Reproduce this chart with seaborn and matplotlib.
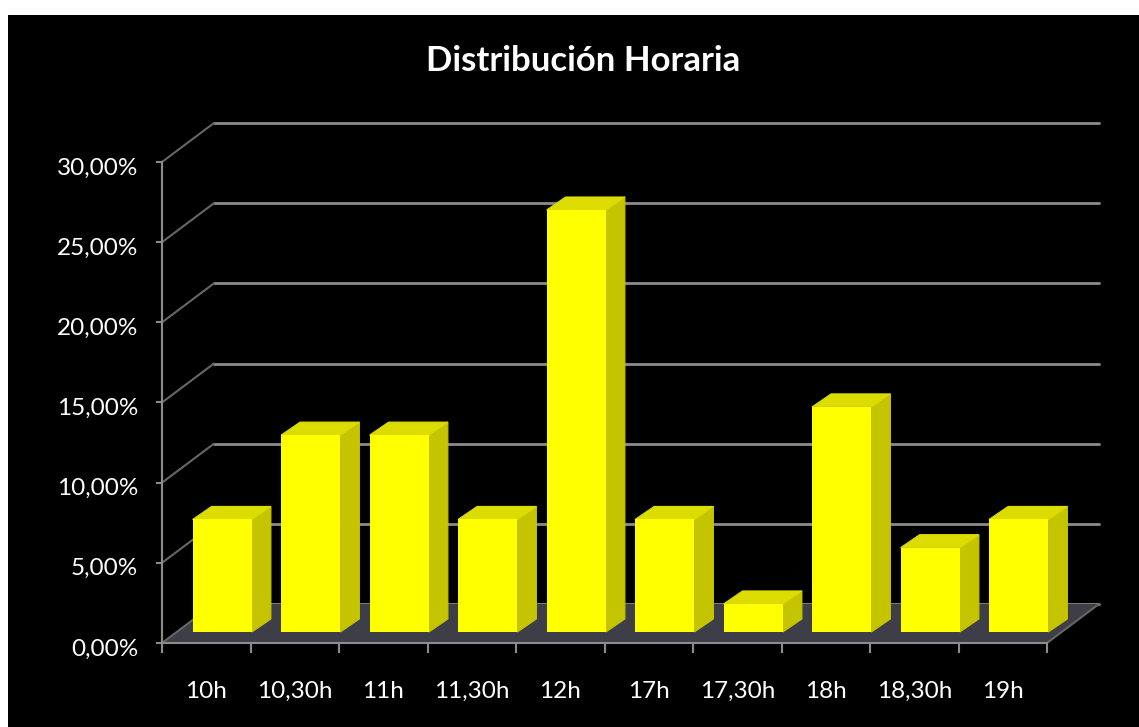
import numpy as np
import pandas as pd
import seaborn as sns
import matplotlib.pyplot as plt
from matplotlib.patches import Polygon, Rectangle

# values
horas = ["10h", "10,30h", "11h", "11,30h", "12h", "17h", "17,30h", "18h", "18,30h", "19h"]
porcentaje = [7.02, 12.28, 12.28, 7.02, 26.32, 7.02, 1.75, 14.04, 5.26, 7.02]
y_ticks = [0, 5, 10, 15, 20, 25, 30]
y_labels = ["0,00%", "5,00%", "10,00%", "15,00%", "20,00%", "25,00%", "30,00%"]

W, H = 1139, 727
GRIS = "#8c8c8c"
GRIS_DIAG = "#666666"

sns.set_theme(style="white")
plt.rcParams["font.family"] = ["Lato", "DejaVu Sans"]

fig = plt.figure(figsize=(W / 100, H / 100), dpi=100, facecolor="white")
fig.patches.append(Rectangle((8 / W, 0), 1, 1 - 15 / H, transform=fig.transFigure,
                             facecolor="black", edgecolor="none", zorder=-5))


def make_axes(dx=0, dy=0):
    # plot box of the front plane, moved by dx, dy pixels for the 3D look
    ax = fig.add_axes([(162 + dx) / W, (H - 643 + dy) / H, 885 / W, 481 / H])
    ax.patch.set_alpha(0)
    ax.set_xlim(-0.5, 9.5)
    ax.set_ylim(0, 30)
    sns.despine(ax=ax, left=True, bottom=True)
    return ax


# back wall with the grid
ax_back = make_axes(52, 39)
ax_back.set_xticks([])
ax_back.set_yticks(y_ticks)
ax_back.set_yticklabels([])
ax_back.tick_params(length=0)
ax_back.grid(axis="y", color=GRIS, lw=2)
ax_back.set_axisbelow(True)
for line in ax_back.get_ygridlines():
    line.set_clip_on(False)

# front plane: axes, ticks, labels
ax = make_axes()
px_x = 885 / 10  # pixels per category
px_y = 481 / 30  # pixels per percent point
back_x = 52 / px_x
back_y = 39 / px_y
ax.add_patch(Polygon([(-0.5, 0), (9.5, 0), (9.5 + back_x, back_y), (-0.5 + back_x, back_y)],
                     facecolor="#3e3e48", edgecolor="none", clip_on=False))
for v in y_ticks:
    ax.plot([-0.5, -0.5 + back_x], [v, v + back_y], color=GRIS_DIAG, lw=1.5, clip_on=False)
ax.plot([9.5, 9.5 + back_x], [0, back_y], color=GRIS_DIAG, lw=1.5, clip_on=False)
for side in ["left", "bottom"]:
    ax.spines[side].set_visible(True)
    ax.spines[side].set_color(GRIS)
    ax.spines[side].set_linewidth(1.5)
ax.set_yticks(y_ticks)
ax.set_yticklabels([])
ax.tick_params(axis="y", length=4, width=1.5, color=GRIS, left=True)
ax.set_xticks(range(len(horas)))
ax.set_xticklabels(horas, color="white", fontsize=17.5, va="baseline")
ax.set_xticks(np.arange(-0.5, 10), minor=True)
ax.tick_params(axis="x", which="major", length=0, pad=39.5)
ax.tick_params(axis="x", which="minor", length=7, width=1.5, color=GRIS, bottom=True)

# y labels sit a little under their ticks
ax_lab = make_axes(0, -4)
ax_lab.set_xticks([])
ax_lab.set_yticks(y_ticks)
ax_lab.set_yticklabels(y_labels, color="white", fontsize=17.5)
ax_lab.tick_params(axis="y", length=0, pad=17)

# bars
ax_bars = make_axes(16, 11)
df = pd.DataFrame({"hora": horas, "pct": porcentaje})
sns.barplot(data=df, x="hora", y="pct", color="#ffff00", saturation=1, width=0.67,
            edgecolor="none", linewidth=0, ax=ax_bars)
ax_bars.set_xlim(-0.5, 9.5)
ax_bars.set_ylim(0, 30)
ax_bars.axis("off")
depth_x = 19 / px_x
depth_y = 13 / px_y
for bar in list(ax_bars.patches):
    bar.set_zorder(5)  # front face over the side edges
    x0, x1 = bar.get_x(), bar.get_x() + bar.get_width()
    top = bar.get_height()
    ax_bars.add_patch(Polygon([(x1, 0), (x1 + depth_x, depth_y), (x1 + depth_x, top + depth_y), (x1, top)],
                              facecolor="#c4c400", edgecolor="#c4c400", lw=0.8, clip_on=False))
    ax_bars.add_patch(Polygon([(x0, top), (x1, top), (x1 + depth_x, top + depth_y), (x0 + depth_x, top + depth_y)],
                              facecolor="#dcdc00", edgecolor="#dcdc00", lw=0.8, clip_on=False))

fig.text(583.5 / W, 1 - 61 / H, "Distribución Horaria", color="white", fontsize=25,
         fontweight="bold", ha="center", va="center")

fig.savefig("out.png", dpi=100, facecolor=fig.get_facecolor())
